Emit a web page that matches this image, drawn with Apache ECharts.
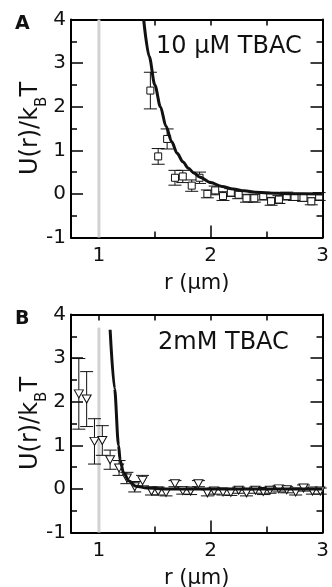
<!DOCTYPE html>
<html><head><meta charset="utf-8">
<script src="https://cdn.jsdelivr.net/npm/echarts@6/dist/echarts.min.js"></script>
<style>html,body{margin:0;padding:0;background:#fff}#c{width:332px;height:587px}</style>
</head><body><div id="c"></div>
<script>
// ---- data ----
const xTickValues = [1, 2, 3];
const xMinorTickValues = [1.5, 2.5];
const xTopTickValues = [1, 1.5, 2, 2.5];
const panelLetters = ['A', 'B'];
const panelTitles = ['10 \u03bcM TBAC', '2mM TBAC'];

// Panel A: 10 uM TBAC (squares)
const rA = [1.46,1.53,1.61,1.68,1.75,1.83,1.90,1.97,2.04,2.11,2.18,2.25,2.32,2.39,2.47,2.54,2.61,2.68,2.75,2.83,2.90,2.97];
const uA = [2.37,0.86,1.26,0.37,0.40,0.19,0.37,0.00,0.08,-0.05,0.03,-0.02,-0.10,-0.10,-0.05,-0.17,-0.13,-0.05,-0.07,-0.09,-0.17,-0.06];
const eA = [0.42,0.18,0.23,0.17,0.14,0.13,0.13,0.09,0.10,0.10,0.09,0.09,0.09,0.09,0.09,0.09,0.09,0.09,0.08,0.08,0.08,0.09];
const fitRA = [1.40,1.45,1.50,1.55,1.60,1.65,1.70,1.75,1.80,1.85,1.90,2.00,2.10,2.20,2.30,2.40,2.50,2.70,3.00];
const fitUA = [4.0,3.15,2.5,2.0,1.55,1.2,0.93,0.74,0.59,0.48,0.39,0.26,0.17,0.11,0.07,0.04,0.02,0.005,0.0];
const contactA = [[1, -1], [1, 4]];

// Panel B: 2 mM TBAC (down triangles)
const rB = [0.82,0.89,0.96,1.03,1.10,1.18,1.25,1.32,1.39,1.47,1.53,1.60,1.68,1.75,1.82,1.89,1.97,2.03,2.11,2.18,2.25,2.32,2.40,2.47,2.53,2.61,2.68,2.76,2.83,2.91,2.98];
const uB = [2.18,2.06,1.09,1.11,0.67,0.48,0.25,0.05,0.19,-0.05,-0.05,-0.08,0.12,-0.04,-0.05,0.12,-0.09,-0.05,-0.07,-0.08,-0.03,-0.09,-0.03,-0.06,-0.03,0.00,-0.02,-0.07,0.02,-0.05,-0.05];
const eB = [0.81,0.63,0.52,0.34,0.22,0.17,0.13,0.12,0.12,0.09,0.09,0.08,0.07,0.08,0.08,0.07,0.07,0.07,0.07,0.07,0.07,0.07,0.07,0.07,0.07,0.07,0.07,0.07,0.07,0.07,0.07];
const fitRB = [1.10,1.14,1.175,1.19,1.22,1.27,1.33,1.43,1.6,2.0,2.5,3.0];
const fitUB = [3.65,2.3,1.0,0.65,0.37,0.18,0.06,0.02,0.0,0.0,0.0,0.0];
const contactB = [[1, -1], [1, 3.7]];

// ---- chart ----
const FONT = 'DejaVu Sans';
const gridTops = [19.5, 314.5];
const panels = [
  {r: rA, u: uA, e: eA, fr: fitRA, fu: fitUA, contact: contactA, symbol: 'rect', size: 7, rot: 0},
  {r: rB, u: uB, e: eB, fr: fitRB, fu: fitUB, contact: contactB, symbol: 'triangle', size: [9, 8], rot: 180}
];

function errRender(params, api) {
  const x = api.value(0), lo = api.value(1), hi = api.value(2);
  const p1 = api.coord([x, hi]), p2 = api.coord([x, lo]);
  const w = 6.5;
  const st = {stroke: '#111', lineWidth: 1};
  return {type: 'group', children: [
    {type: 'line', shape: {x1: p1[0], y1: p1[1], x2: p2[0], y2: p2[1]}, style: st},
    {type: 'line', shape: {x1: p1[0] - w, y1: p1[1], x2: p1[0] + w, y2: p1[1]}, style: st},
    {type: 'line', shape: {x1: p2[0] - w, y1: p2[1], x2: p2[0] + w, y2: p2[1]}, style: st}
  ]};
}

const grid = [], xAxis = [], yAxis = [], series = [], title = [];
const black = '#000';
panels.forEach((p, i) => {
  grid.push({left: 71, top: gridTops[i], width: 251.5, height: 218, outerBoundsMode: 'none', containLabel: false});
  const xb = xAxis.length;
  xAxis.push({
    gridIndex: i, type: 'value', min: 0.75, max: 3, position: 'bottom',
    axisLine: {show: true, onZero: false, lineStyle: {color: black, width: 2}},
    axisTick: {show: true, inside: true, length: 12, customValues: xTickValues, lineStyle: {color: black, width: 1.5}},
    axisLabel: {show: true, customValues: xTickValues, margin: 8, fontSize: 20, color: '#111', fontFamily: FONT},
    splitLine: {show: false},
    name: 'r (\u03bcm)', nameLocation: 'middle', nameGap: 36, nameMoveOverlap: false,
    nameTextStyle: {fontSize: 21, color: '#111', fontFamily: FONT}
  });
  xAxis.push({
    gridIndex: i, type: 'value', min: 0.75, max: 3, position: 'bottom',
    axisLine: {show: false, onZero: false},
    axisTick: {show: true, inside: true, length: 6, customValues: xMinorTickValues, lineStyle: {color: black, width: 1.5}},
    axisLabel: {show: false}, splitLine: {show: false}
  });
  xAxis.push({
    gridIndex: i, type: 'value', min: 0.75, max: 3, position: 'top',
    axisLine: {show: true, onZero: false, lineStyle: {color: black, width: 2}},
    axisTick: {show: true, inside: true, length: 6, customValues: xTopTickValues, lineStyle: {color: black, width: 1.5}},
    axisLabel: {show: false}, splitLine: {show: false}
  });
  const yb = yAxis.length;
  const yCommon = {
    gridIndex: i, type: 'value', min: -1, max: 4, interval: 1,
    axisLine: {show: true, onZero: false, lineStyle: {color: black, width: 2}},
    axisTick: {show: true, inside: true, length: 12, lineStyle: {color: black, width: 1.5}},
    minorTick: {show: true, splitNumber: 2, length: 6, lineStyle: {color: black, width: 1.5}},
    splitLine: {show: false}, minorSplitLine: {show: false}
  };
  yAxis.push(Object.assign({}, yCommon, {
    position: 'left',
    axisLabel: {show: true, margin: 5, fontSize: 20, color: '#111', fontFamily: FONT},
    name: '{m|U(r)/k}{s|B}{m|T}', nameLocation: 'middle', nameGap: 28, nameMoveOverlap: false,
    nameTextStyle: {
      fontFamily: FONT, color: '#111',
      rich: {
        m: {fontSize: 24, lineHeight: 24, fontFamily: FONT, color: '#111'},
        s: {fontSize: 15, lineHeight: 15, padding: [22, 0, 0, 0], fontFamily: FONT, color: '#111'}
      }
    }
  }));
  yAxis.push(Object.assign({}, yCommon, {position: 'right', axisLabel: {show: false}}));

  // contact line at r = 1
  series.push({type: 'line', xAxisIndex: xb, yAxisIndex: yb, data: p.contact, symbol: 'none',
    lineStyle: {color: '#d2d2d2', width: 3}, silent: true, z: 1});
  // error bars
  series.push({type: 'custom', xAxisIndex: xb, yAxisIndex: yb, renderItem: errRender,
    encode: {x: 0, y: [1, 2]},
    data: p.r.map((r, k) => [r, p.u[k] - p.e[k], p.u[k] + p.e[k]]), silent: true, z: 2});
  // markers
  series.push({type: 'scatter', xAxisIndex: xb, yAxisIndex: yb, symbol: p.symbol, symbolSize: p.size,
    symbolRotate: p.rot, data: p.r.map((r, k) => [r, p.u[k]]),
    itemStyle: {color: '#fff', borderColor: '#111', borderWidth: 1, opacity: 1}, silent: true, z: 3});
  // fit curve
  series.push({type: 'line', xAxisIndex: xb, yAxisIndex: yb, data: p.fr.map((r, k) => [r, p.fu[k]]),
    symbol: 'none', smooth: 0.3, smoothMonotone: 'x', clip: true,
    lineStyle: {color: '#111', width: 3}, silent: true, z: 4});

  title.push({text: panelLetters[i], left: 15, top: gridTops[i] - 5, padding: 0,
    textStyle: {fontSize: 19, fontWeight: 'bold', color: '#111', fontFamily: FONT}});
  title.push({text: panelTitles[i], left: i === 0 ? 156 : 158, top: gridTops[i] + (i === 0 ? 15 : 16), padding: 0,
    textStyle: {fontSize: 24, fontWeight: 'normal', color: '#111', fontFamily: FONT}});
});

const chart = echarts.init(document.getElementById('c'), null, {renderer: 'canvas'});
chart.setOption({
  animation: false, backgroundColor: '#fff',
  textStyle: {fontFamily: FONT},
  title, grid, xAxis, yAxis, series
});
</script></body></html>
